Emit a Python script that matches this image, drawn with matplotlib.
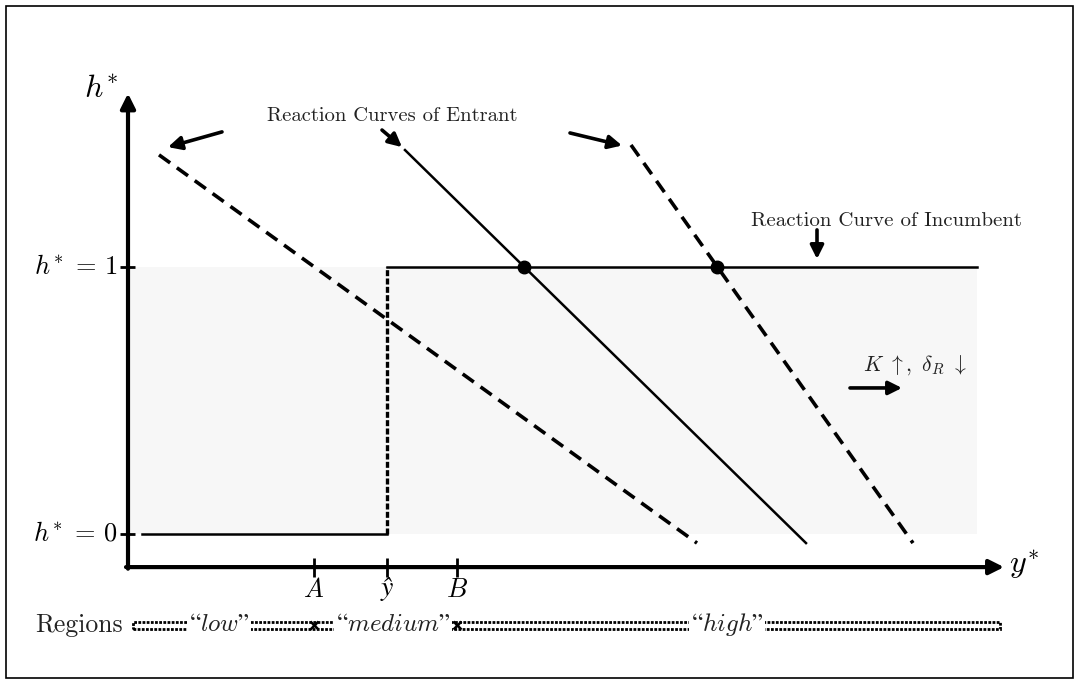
import matplotlib
matplotlib.use("Agg")
import matplotlib.pyplot as plt
from matplotlib.patches import Rectangle

plt.rcParams['mathtext.fontset'] = 'cm'
plt.rcParams['font.family'] = ['cmr10', 'DejaVu Serif']
plt.rcParams['axes.unicode_minus'] = False

# ---- data (x in y* units, h in h* units) ----
A_pos = 1.86
y_hat = 2.59
B_pos = 3.29
tick_x = [A_pos, y_hat, B_pos]
tick_labels = [r"$A$", "ŷ", r"$B$"]
h_ticks = [0, 1]
h_tick_labels = [r"$h^{\!*}\,=\,0$", r"$h^{\!*}\,=\,1$"]

incumbent_low_x = [0.14, y_hat]
incumbent_low_h = [0, 0]
incumbent_jump_h = [0, 1]
incumbent_high_x = [y_hat, 8.49]
incumbent_high_h = [1, 1]

entrant_left_x = [0.31, 5.69]
entrant_left_h = [1.42, -0.034]
entrant_mid_x = [2.77, 6.78]
entrant_mid_h = [1.438, -0.034]
entrant_right_x = [5.03, 7.85]
entrant_right_h = [1.457, -0.034]

equilibria_x = [3.96, 5.89]
equilibria_h = [1, 1]

region_names = [r"“$low$”", r"“$medium$”", r"“$high$”"]
region_label_x = [0.91, 2.65, 5.99]
region_bounds = [0.05, A_pos, B_pos, 8.72]

fig = plt.figure(figsize=(10.76, 6.81), dpi=100)
ax = fig.add_axes([0, 0, 1, 1])
ax.set_xlim(-1.28, 9.48)
ax.set_ylim(-0.5506, 2.0)
ax.axis('off')

# figure frame
fig.patches.append(Rectangle((6/1076, 1-678/681), 1067/1076, 672/681,
                             transform=fig.transFigure, fill=False,
                             edgecolor='black', lw=1.2))

# shaded band
ax.add_patch(Rectangle((0.02, 0), incumbent_high_x[1]-0.02, 1,
                       facecolor='#f7f7f7', edgecolor='none', zorder=0))

# axes arrows
ax.annotate('', xy=(8.76, -0.124), xytext=(-0.02, -0.124),
            arrowprops=dict(arrowstyle='-|>', lw=3, color='black',
                            mutation_scale=22, shrinkA=0, shrinkB=0))
ax.annotate('', xy=(0, 1.65), xytext=(0, -0.13),
            arrowprops=dict(arrowstyle='-|>', lw=3, color='black',
                            mutation_scale=22, shrinkA=0, shrinkB=0))

# ticks
for h in h_ticks:
    ax.plot([-0.08, 0.07], [h, h], color='black', lw=2, solid_capstyle='butt')
for x in tick_x:
    ax.plot([x, x], [-0.09, -0.16], color='black', lw=2, solid_capstyle='butt')

for h, lab in zip(h_ticks, h_tick_labels):
    ax.text(-0.10, h, lab, ha='right', va='center', fontsize=19)
for x, lab in zip(tick_x, tick_labels):
    if lab.startswith('$'):
        ax.text(x, -0.21, lab, ha='center', va='center', fontsize=19)
    else:
        ax.text(x, -0.205, lab, ha='center', va='center', fontsize=20,
                family='STIXGeneral', style='italic')

ax.text(-0.27, 1.665, r"$h^{\!*}$", ha='center', va='center', fontsize=23)
ax.text(8.96, -0.115, r"$y^{\!*}$", ha='center', va='center', fontsize=23)

# incumbent reaction curve
ax.plot(incumbent_low_x, incumbent_low_h, color='black', lw=1.8)
ax.plot([y_hat, y_hat], incumbent_jump_h, color='black', lw=2.4,
        dashes=(1.8, 0.7))
ax.plot(incumbent_high_x, incumbent_high_h, color='black', lw=1.8)

# entrant reaction curves
ax.plot(entrant_left_x, entrant_left_h, color='black', lw=2.6, dashes=(3.8, 2.3))
ax.plot(entrant_mid_x, entrant_mid_h, color='black', lw=1.8)
ax.plot(entrant_right_x, entrant_right_h, color='black', lw=2.6, dashes=(3.8, 2.3))

ax.plot(equilibria_x, equilibria_h, 'o', color='black', markersize=9, zorder=5)

# annotation arrows
arrow_kw = dict(arrowstyle='-|>', lw=2.6, color='black', mutation_scale=20,
                shrinkA=0, shrinkB=0)
ax.annotate('', xy=(0.40, 1.449), xytext=(0.94, 1.506), arrowprops=arrow_kw)
ax.annotate('', xy=(2.74, 1.449), xytext=(2.54, 1.513), arrowprops=arrow_kw)
ax.annotate('', xy=(4.94, 1.455), xytext=(4.42, 1.502), arrowprops=arrow_kw)
ax.annotate('', xy=(6.89, 1.03), xytext=(6.89, 1.139), arrowprops=arrow_kw)
ax.annotate('', xy=(7.74, 0.547), xytext=(7.22, 0.547), arrowprops=arrow_kw)

ax.text(2.64, 1.565, "Reaction Curves of Entrant", ha='center', va='center',
        fontsize=14.8, color='#222222')
ax.text(7.58, 1.172, "Reaction Curve of Incumbent", ha='center', va='center',
        fontsize=15, color='#222222')
ax.text(7.87, 0.632, r"$K\ \uparrow,\ \delta_R\ \downarrow$", ha='center',
        va='center', fontsize=15.5, color='#222222')

# regions bar
ax.text(-0.495, -0.341, "Regions", ha='center', va='center', fontsize=18.5,
        color='#222222')
bar_h = 0.026
ax.add_patch(Rectangle((region_bounds[0], -0.341 - bar_h/2),
                       region_bounds[-1]-region_bounds[0], bar_h,
                       fill=False, edgecolor='black', lw=2.0,
                       linestyle=(0, (1, 0.5)), zorder=2))
for xb in region_bounds[1:-1]:
    ax.plot([xb], [-0.341], marker='x', color='black', markersize=6, mew=1.8,
            zorder=3)
for x, lab in zip(region_label_x, region_names):
    ax.text(x, -0.339, lab, ha='center', va='center', fontsize=18, zorder=4,
            family='STIXGeneral', color='#222222',
            bbox=dict(facecolor='white', edgecolor='none', pad=1.0))

fig.savefig("out.png", dpi=100)
